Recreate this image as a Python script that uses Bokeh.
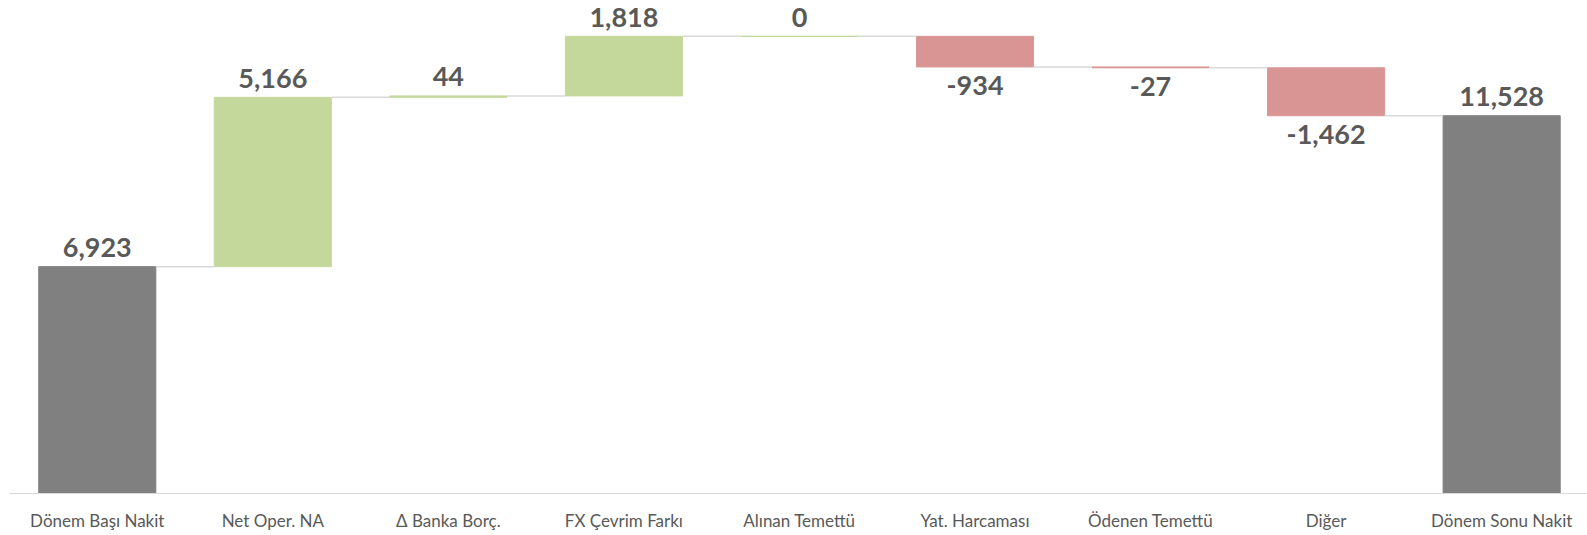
from bokeh.plotting import figure
from bokeh.models import ColumnDataSource, Range1d, FixedTicker
from bokeh.core.properties import value
from bokeh.embed import file_html
from bokeh.resources import INLINE

categories = ["Dönem Başı Nakit", "Net Oper. NA", "Δ Banka Borç.", "FX Çevrim Farkı",
              "Alınan Temettü", "Yat. Harcaması", "Ödenen Temettü", "Diğer", "Dönem Sonu Nakit"]
values = [6923, 5166, 44, 1818, 0, -934, -27, -1462, 11528]
kinds = ["total", "delta", "delta", "delta", "delta", "delta", "delta", "delta", "total"]

COL_TOTAL = "#808080"
COL_UP = "#C5D89C"
COL_DOWN = "#D99594"
TXT = "#595959"

xs, bottoms, tops, colors = [], [], [], []
running = 0
ends = []
for i, (v, k) in enumerate(zip(values, kinds)):
    xs.append(i)
    if k == "total":
        bottoms.append(0)
        tops.append(v)
        colors.append(COL_TOTAL)
        running = v
    else:
        start = running
        running = running + v
        bottoms.append(min(start, running))
        tops.append(max(start, running))
        colors.append(COL_UP if v >= 0 else COL_DOWN)
    ends.append(running)

W = 0.667
p = figure(width=1587, height=535, output_backend="svg", toolbar_location=None,
           x_range=Range1d(-0.5, 8.489), y_range=Range1d(0, 15044),
           min_border_left=9, min_border_right=0, min_border_top=0, min_border_bottom=42)
p.outline_line_color = None
p.xgrid.visible = False
p.ygrid.visible = False
p.yaxis.visible = False

src = ColumnDataSource(dict(x=xs, bottom=bottoms, top=tops, color=colors))
p.vbar(x="x", bottom="bottom", top="top", width=W, fill_color="color", line_color="color",
       line_width=1, source=src)

# connectors
x0 = [i + W / 2 for i in range(len(values) - 1)]
x1 = [i + 1 - W / 2 for i in range(len(values) - 1)]
yc = ends[:-1]
p.segment(x0=x0, y0=yc, x1=x1, y1=yc, line_color="#D9D9D9", line_width=1.5)

# labels
pos_x, pos_y, pos_t, neg_x, neg_y, neg_t = [], [], [], [], [], []
for i, v in enumerate(values):
    lab = f"{v:,}"
    if v >= 0:
        pos_x.append(i); pos_y.append(tops[i]); pos_t.append(lab)
    else:
        neg_x.append(i); neg_y.append(bottoms[i]); neg_t.append(lab)

p.text(x=pos_x, y=pos_y, text=pos_t, text_align="center", text_baseline="alphabetic",
       y_offset=-19, text_font=value("Lato"), text_font_style="bold", text_font_size="27px",
       text_color=TXT)
p.text(x=neg_x, y=neg_y, text=neg_t, text_align="center", text_baseline="top",
       y_offset=9, text_font=value("Lato"), text_font_style="bold", text_font_size="27px",
       text_color=TXT)

ax = p.xaxis[0]
ax.ticker = FixedTicker(ticks=list(range(len(categories))))
ax.major_label_overrides = {i: c for i, c in enumerate(categories)}
ax.axis_line_color = "#D9D9D9"
ax.axis_line_width = 1
ax.major_tick_line_color = None
ax.minor_tick_line_color = None
ax.major_tick_out = 0
ax.major_tick_in = 0
ax.major_label_standoff = 16
ax.major_label_text_font = "Lato"
ax.major_label_text_font_size = "17px"
ax.major_label_text_color = TXT

open("out.html", "w").write(file_html(p, INLINE))
